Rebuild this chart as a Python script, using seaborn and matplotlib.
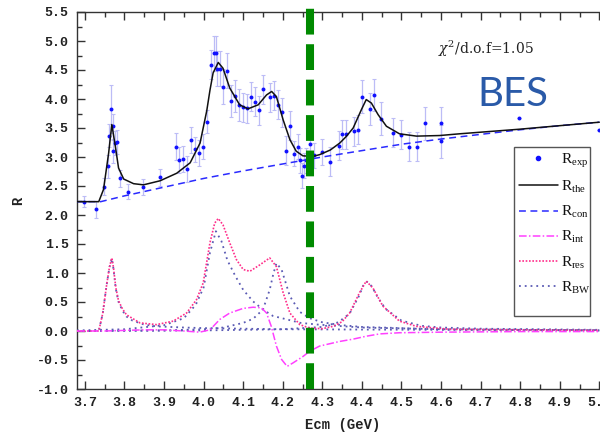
import numpy as np
import pandas as pd
import matplotlib
matplotlib.use("Agg")
import matplotlib.pyplot as plt
from matplotlib.lines import Line2D
from matplotlib.patches import Rectangle
import seaborn as sns

# ---------------- data ----------------
exp_x = [3.698, 3.729, 3.749, 3.758, 3.762, 3.766, 3.771, 3.772, 3.775, 3.780,
         3.788, 3.809, 3.848, 3.889, 3.929, 3.939, 3.949, 3.958, 3.968, 3.979,
         3.989, 3.998, 4.008, 4.018, 4.025, 4.031, 4.033, 4.041, 4.049, 4.059,
         4.069, 4.079, 4.089, 4.100, 4.109, 4.119, 4.129, 4.139, 4.149, 4.169,
         4.178, 4.189, 4.199, 4.209, 4.219, 4.229, 4.239, 4.243, 4.249, 4.253,
         4.258, 4.268, 4.278, 4.300, 4.320, 4.341, 4.350, 4.359, 4.379, 4.390,
         4.400, 4.420, 4.430, 4.449, 4.479, 4.500, 4.520, 4.540, 4.560, 4.600,
         4.600, 4.798, 4.998]
exp_y = [2.23, 2.10, 2.49, 2.84, 3.37, 3.83, 3.53, 3.10, 3.24, 3.26,
         2.63, 2.40, 2.48, 2.65, 3.18, 2.95, 2.97, 2.79, 3.29, 3.13,
         3.07, 3.18, 3.61, 4.59, 4.79, 4.79, 4.52, 4.52, 4.21, 4.49,
         3.97, 4.05, 3.90, 3.86, 3.84, 4.04, 3.95, 3.81, 4.17, 4.03,
         4.06, 3.90, 3.77, 3.11, 3.54, 3.06, 3.18, 2.94, 2.68, 2.85,
         2.94, 3.23, 3.03, 3.09, 2.92, 3.19, 3.39, 3.39, 3.44, 3.47,
         4.04, 3.83, 4.07, 3.66, 3.42, 3.38, 3.18, 3.18, 3.58, 3.59,
         3.27, 3.67, 3.47]
exp_err = [0.09, 0.15, 0.14, 0.20, 0.20, 0.41, 0.22, 0.20, 0.20, 0.20,
           0.15, 0.13, 0.14, 0.15, 0.23, 0.22, 0.22, 0.22, 0.22, 0.22,
           0.22, 0.22, 0.20, 0.25, 0.30, 0.30, 0.30, 0.30, 0.30, 0.30,
           0.28, 0.28, 0.28, 0.25, 0.25, 0.25, 0.25, 0.25, 0.25, 0.25,
           0.25, 0.25, 0.25, 0.25, 0.25, 0.22, 0.22, 0.22, 0.22, 0.22,
           0.22, 0.22, 0.22, 0.22, 0.25, 0.25, 0.25, 0.25, 0.25, 0.25,
           0.28, 0.28, 0.28, 0.28, 0.25, 0.25, 0.25, 0.25, 0.28, 0.28,
           0.28, 0.0, 0.0]

the_x = [3.68, 3.735, 3.747, 3.760, 3.768, 3.777, 3.785, 3.798, 3.823, 3.848,
         3.890, 3.932, 3.966, 3.991, 4.008, 4.016, 4.024, 4.037, 4.049, 4.066,
         4.091, 4.112, 4.138, 4.159, 4.172, 4.184, 4.201, 4.218, 4.234, 4.251,
         4.276, 4.293, 4.320, 4.344, 4.360, 4.378, 4.399, 4.411, 4.424, 4.441,
         4.462, 4.495, 4.538, 4.596, 4.647, 4.800, 5.000]
the_y = [2.23, 2.23, 2.44, 3.07, 3.56, 3.18, 2.81, 2.62, 2.54, 2.52,
         2.59, 2.72, 2.90, 3.24, 3.80, 4.15, 4.45, 4.63, 4.53, 4.19,
         3.90, 3.83, 3.90, 4.07, 4.13, 4.04, 3.64, 3.30, 3.10, 3.02,
         3.01, 3.04, 3.12, 3.24, 3.35, 3.50, 3.82, 3.99, 3.93, 3.73,
         3.53, 3.40, 3.36, 3.37, 3.40, 3.48, 3.60]

con_x = [3.68, 3.74, 3.80, 3.90, 4.00, 4.10, 4.20, 4.30, 4.40, 4.50,
         4.60, 4.70, 4.80, 4.90, 5.00]
con_y = [2.23, 2.23, 2.33, 2.48, 2.63, 2.76, 2.88, 3.00, 3.11, 3.22,
         3.31, 3.39, 3.47, 3.54, 3.60]

int_x = [3.68, 3.75, 3.80, 3.85, 3.90, 3.95, 3.99, 4.016, 4.041, 4.066,
         4.100, 4.125, 4.146, 4.159, 4.171, 4.184, 4.197, 4.211, 4.226, 4.251,
         4.268, 4.293, 4.344, 4.378, 4.411, 4.445, 4.495, 4.60, 4.80, 5.00]
int_y = [0.00, 0.00, 0.01, 0.02, 0.02, 0.00, -0.02, 0.02, 0.20, 0.31,
         0.39, 0.41, 0.40, 0.31, 0.08, -0.26, -0.49, -0.61, -0.55, -0.44,
         -0.35, -0.26, -0.18, -0.14, -0.09, -0.05, -0.03, -0.02, -0.01, -0.01]

res_x = [3.68, 3.735, 3.745, 3.755, 3.762, 3.768, 3.772, 3.778, 3.785, 3.795,
         3.805, 3.839, 3.881, 3.923, 3.957, 3.982, 3.999, 4.016, 4.028, 4.037,
         4.049, 4.066, 4.083, 4.100, 4.117, 4.142, 4.167, 4.184, 4.201, 4.218,
         4.243, 4.268, 4.300, 4.327, 4.350, 4.369, 4.394, 4.411, 4.428, 4.453,
         4.495, 4.538, 4.622, 4.80, 5.00]
res_y = [0.00, 0.00, 0.30, 0.80, 1.10, 1.26, 1.10, 0.75, 0.52, 0.38,
         0.28, 0.14, 0.11, 0.17, 0.31, 0.54, 0.83, 1.52, 1.86, 1.94,
         1.83, 1.52, 1.23, 1.06, 1.03, 1.14, 1.26, 1.11, 0.66, 0.31,
         0.11, 0.05, 0.04, 0.08, 0.16, 0.31, 0.66, 0.86, 0.74, 0.43,
         0.17, 0.08, 0.03, 0.02, 0.01]

bw1_x = [3.68, 3.735, 3.745, 3.755, 3.762, 3.768, 3.772, 3.778, 3.785, 3.795,
         3.805, 3.82, 3.85, 3.88, 3.95, 4.00, 4.20, 4.60, 5.00]
bw1_y = [0.00, 0.00, 0.30, 0.80, 1.10, 1.25, 1.08, 0.73, 0.50, 0.35,
         0.25, 0.18, 0.11, 0.08, 0.06, 0.05, 0.03, 0.02, 0.01]
bw2_x = [3.68, 3.80, 3.90, 3.95, 3.98, 4.00, 4.016, 4.031, 4.045, 4.060,
         4.080, 4.100, 4.125, 4.150, 4.175, 4.210, 4.245, 4.290, 4.40, 4.60, 5.00]
bw2_y = [0.01, 0.03, 0.10, 0.22, 0.45, 0.75, 1.35, 1.72, 1.55, 1.22,
         0.95, 0.71, 0.51, 0.37, 0.26, 0.20, 0.14, 0.11, 0.06, 0.03, 0.015]
bw3_x = [3.68, 3.90, 4.00, 4.05, 4.10, 4.125, 4.150, 4.167, 4.176, 4.184,
         4.197, 4.218, 4.243, 4.268, 4.300, 4.350, 4.40, 4.60, 5.00]
bw3_y = [0.00, 0.01, 0.03, 0.06, 0.14, 0.21, 0.37, 0.71, 0.98, 1.17,
         1.06, 0.60, 0.33, 0.22, 0.15, 0.10, 0.07, 0.03, 0.01]
bw4_x = [3.68, 4.00, 4.20, 4.30, 4.34, 4.369, 4.394, 4.403, 4.413, 4.425,
         4.44, 4.46, 4.50, 4.55, 4.60, 4.70, 5.00]
bw4_y = [0.00, 0.01, 0.03, 0.07, 0.15, 0.30, 0.62, 0.78, 0.85, 0.77,
         0.58, 0.38, 0.18, 0.09, 0.06, 0.04, 0.02]

vline_x = 4.268
chi_text = r"$\chi^2$/d.o.f=1.05"
bes_text = "BES"

# ---------------- styling ----------------
sns.set_theme(style="ticks")
plt.rcParams["font.family"] = ["Liberation Mono", "DejaVu Sans"]
plt.rcParams["mathtext.fontset"] = "dejavuserif"

W, H = 600, 438
fig = plt.figure(figsize=(6.0, 4.38), dpi=100)
ax_l, ax_r, ax_t, ax_b = 77, 608, 12, 389
ax = fig.add_axes([ax_l / W, 1 - ax_b / H, (ax_r - ax_l) / W, (ax_b - ax_t) / H])

blue = "#1010ff"
err_col = "#bcbcf6"
pink = "#ff2d8a"
magenta = "#ff40ff"
bwcol = "#5a5ab4"

# error bars + points
ax.errorbar(exp_x, exp_y, yerr=exp_err, fmt="none", ecolor=err_col,
            elinewidth=0.9, capsize=1.5, capthick=0.8, zorder=2)
sns.scatterplot(x=exp_x, y=exp_y, ax=ax, color=blue, s=8, linewidth=0,
                zorder=3, legend=False)

def curve(xs, ys, **kw):
    df = pd.DataFrame({"x": xs, "y": ys})
    sns.lineplot(data=df, x="x", y="y", ax=ax, estimator=None, sort=False,
                 legend=False, **kw)

curve(con_x, con_y, color="#2a2aff", lw=1.1, linestyle=(0, (4.5, 3)), zorder=4)
curve(the_x, the_y, color="#111111", lw=1.1, zorder=5)
for bx, by in [(bw1_x, bw1_y), (bw2_x, bw2_y), (bw3_x, bw3_y), (bw4_x, bw4_y)]:
    curve(bx, by, color=bwcol, lw=1.3, linestyle=(0, (1, 2.2)), zorder=4)
curve(res_x, res_y, color=pink, lw=1.2, linestyle=(0, (1, 1)), zorder=5)
curve(int_x, int_y, color=magenta, lw=1.1, linestyle=(0, (5, 1.5, 1, 1.5)), zorder=5)

# green dashed vertical line
ax.axvline(vline_x, ymin=0, ymax=1 + 13 / (ax_b - ax_t), color="#008a00",
           lw=5.8, linestyle=(0, (3.2, 1.2)), clip_on=False, zorder=6)

ax.set_xlim(3.68, 5.022)
ax.set_ylim(-1.0, 5.5)
ax.set_xticks(np.arange(3.7, 5.01, 0.1))
ax.set_xticks(np.arange(3.7, 5.01, 0.05), minor=True)
ax.set_yticks(np.arange(-1.0, 5.51, 0.5))
ax.set_yticks(np.arange(-1.0, 5.51, 0.25), minor=True)
ax.set_xticklabels([f"{v:.1f}" for v in np.arange(3.7, 5.01, 0.1)])
ax.set_yticklabels([f"{v:.1f}" if v < -0.01 else f"{abs(v):.1f}" for v in np.arange(-1.0, 5.51, 0.5)])
ax.tick_params(which="both", direction="in", top=True, right=False,
               colors="#333333", labelcolor="#222222", width=1.0)
ax.tick_params(which="major", length=6, labelsize=9.5, pad=6)
ax.tick_params(which="minor", length=3.5)
for t in ax.get_xticklabels() + ax.get_yticklabels():
    t.set_fontweight("bold")
for s in ["left", "bottom", "top", "right"]:
    ax.spines[s].set_color("#333333")
    ax.spines[s].set_linewidth(1.0)

ax.set_xlabel("Ecm (GeV)", fontsize=10, fontweight="bold", color="#222222", labelpad=6)
ax.set_ylabel("R", fontsize=10, fontweight="bold", color="#222222", labelpad=8)

fig.text(438 / W, 1 - 49 / H, chi_text, fontsize=10, color="#222222",
         family=["DejaVu Serif"], va="center", ha="left")
fig.text(477 / W, 1 - 94 / H, bes_text, fontsize=29, color="#2a5aa8",
         family=["Lato", "DejaVu Sans"], va="center", ha="left")

# legend
box = Rectangle((514 / W, 1 - 316 / H), (590 - 514) / W, (316 - 147) / H,
                transform=fig.transFigure, facecolor="white", edgecolor="#555555",
                lw=1.0, zorder=10)
fig.patches.append(box)
handles = [
    Line2D([], [], color=blue, marker="o", markersize=3, linestyle="none"),
    Line2D([], [], color="#111111", lw=1.1),
    Line2D([], [], color="#2a2aff", lw=1.1, linestyle=(0, (4.5, 3))),
    Line2D([], [], color=magenta, lw=1.1, linestyle=(0, (5, 1.5, 1, 1.5))),
    Line2D([], [], color=pink, lw=1.2, linestyle=(0, (1, 1))),
    Line2D([], [], color=bwcol, lw=1.3, linestyle=(0, (1, 2.2))),
]
labels = [r"$\mathregular{R_{exp}}$", r"$\mathregular{R_{the}}$",
          r"$\mathregular{R_{con}}$", r"$\mathregular{R_{int}}$",
          r"$\mathregular{R_{res}}$", r"$\mathregular{R_{BW}}$"]
leg = fig.legend(handles, labels, loc="upper left",
                 bbox_to_anchor=(514 / W, 1 - 147 / H), frameon=False,
                 prop={"family": "Liberation Serif", "size": 11},
                 handlelength=2.6, handletextpad=0.2, labelspacing=0.6,
                 borderpad=0.3, borderaxespad=0.0)
leg.set_zorder(11)
for t in leg.get_texts():
    t.set_color("#111111")

fig.savefig("out.png", dpi=100)
